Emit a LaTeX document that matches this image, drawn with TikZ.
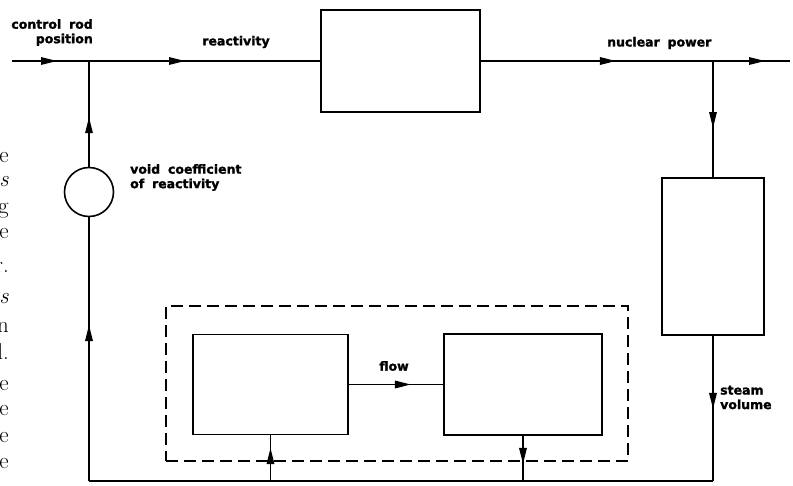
\documentclass[tikz,border=0pt]{standalone}
\usepackage{fontspec}
\newfontfamily\labfont{DejaVu Sans}[BoldFeatures={FakeBold=1.5}, WordSpace=1.8]
\usetikzlibrary{arrows.meta,decorations.markings}
\tikzset{
  ln/.style={line width=1.6pt},
  blk/.style={draw, line width=1.8pt, inner sep=0pt, rectangle},
  dbox/.style={draw, line width=1.8pt, inner sep=0pt, rectangle, dash pattern=on 12pt off 6pt},
  lab/.style={font=\labfont\bfseries\fontsize{12.5}{14.5}\selectfont, inner sep=0pt},
  tipat/.style={postaction={decorate}, decoration={markings, mark=at position #1 with {\arrow{Triangle[length=16pt,width=7.5pt]}}}},
  marg/.style={font=\fontsize{23}{25}\selectfont, inner sep=0pt, anchor=base east}
}
\begin{document}
\begin{tikzpicture}[x=1pt,y=-1pt]
\clip (0,0) rectangle (793,485);
\fill[white] (0,0) rectangle (793,485);
% blocks
\node[blk, minimum width=159pt, minimum height=102pt] (b1) at (400.5,61) {};
\node[blk, minimum width=102pt, minimum height=157pt] (b2) at (713,256.5) {};
\node[draw, circle, line width=1.6pt, minimum size=49pt, inner sep=0pt] (circ) at (89,192) {};
\node[dbox, minimum width=462pt, minimum height=155pt] (grp) at (397,383.5) {};
\node[blk, minimum width=155pt, minimum height=100pt] (A) at (270.5,384.5) {};
\node[blk, minimum width=158pt, minimum height=101pt] (B) at (523,384.5) {};
% coordinates
\coordinate (in) at (12,61);
\coordinate (j1) at (89,61);
\coordinate (j2) at (713,61);
\coordinate (out) at (790,61);
\coordinate (c1) at (713,481);
\coordinate (c2) at (89,481);
\coordinate (fbA) at (A.south |- c1);
\coordinate (fbB) at (B.south |- c1);
% connectors
\draw[ln, tipat=45pt] (in) -- (j1);
\draw[ln, tipat=96pt] (j1) -- (b1.west);
\draw[ln, tipat=135pt] (b1.east) -- (j2);
\draw[ln, tipat=52pt] (j2) -- (out);
\draw[ln, tipat=67pt] (j2) -- (b2.north);
\draw[ln, tipat=73pt] (b2.south) -- (c1);
\draw[ln] (c1) -- (c2);
\draw[ln, tipat=156pt] (c2) -- (circ.south);
\draw[ln, tipat=49.5pt] (circ.north) -- (j1);
\draw[ln, tipat=62pt] (A.east) -- (B.west);
\draw[ln, tipat=33pt] (fbA) -- (A.south);
\draw[ln, tipat=28pt] (B.south) -- (fbB);
% labels
\node[lab, align=right, anchor=east] (lcrp) at (93,32.5) {control rod\\position};
\node[lab] (lreact) at (236,42) {reactivity};
\node[lab, anchor=west] (lnp) at (607,43) {nuclear power};
\node[lab, align=left, anchor=west] (lvoid) at (130,177.5) {void coefficient\\of reactivity};
\node[lab] (lflow) at (394,366) {flow};
\node[lab, align=left, anchor=west] (lsteam) at (720,397.5) {steam\\volume};
% cropped margin text
\node[marg] (m1) at (9,162) {e};
\node[marg] (m2) at (9,186) {\textit{s}};
\node[marg] (m3) at (9,213) {g};
\node[marg] (m4) at (9,238) {e};
\node[marg] (m5) at (9,272) {r.};
\node[marg] (m6) at (9,303) {\textit{s}};
\node[marg] (m7) at (9,332) {n};
\node[marg] (m8) at (9,359) {l.};
\node[marg] (m9) at (9,390) {e};
\node[marg] (m10) at (9,415) {e};
\node[marg] (m11) at (9,442) {e};
\node[marg] (m12) at (9,468) {e};
\end{tikzpicture}
\end{document}
